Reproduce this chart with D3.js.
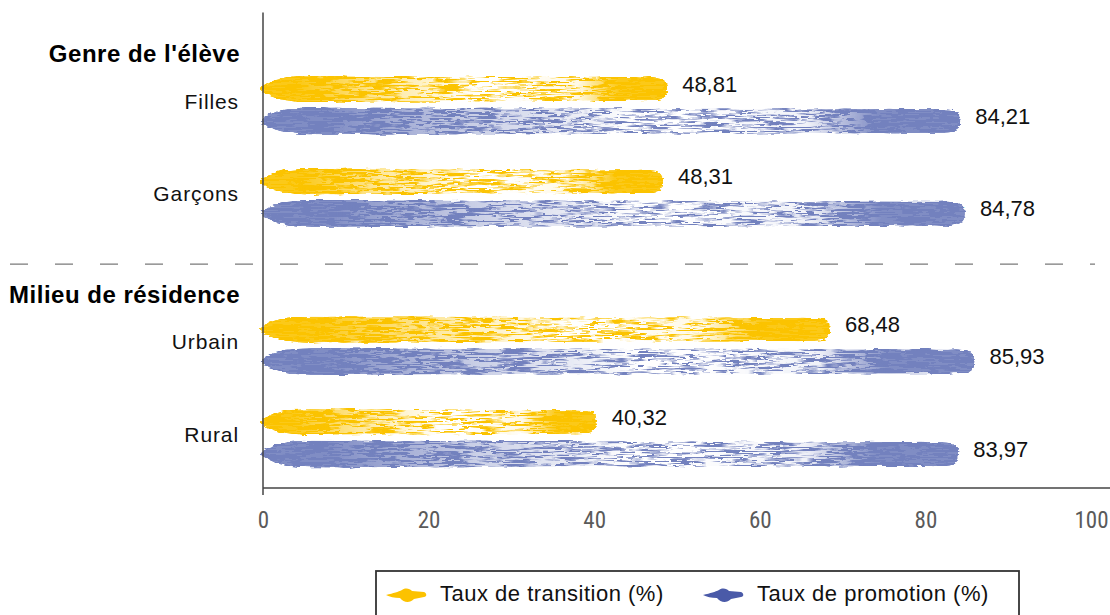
<!DOCTYPE html>
<html>
<head>
<meta charset="utf-8">
<script src="https://cdn.jsdelivr.net/npm/d3@7"></script>
<style>
  body { margin: 0; background: #fff; }
  svg { display: block; }
</style>
</head>
<body>
<div id="chart"></div>
<script>
// data
var groups = ["Genre de l'élève", "Milieu de résidence"];
var categories = ["Filles", "Garçons", "Urbain", "Rural"];
var categoryGroup = [0, 0, 1, 1];
var transition = [48.81, 48.31, 68.48, 40.32];
var promotion = [84.21, 84.78, 85.93, 83.97];
var xTicks = [0, 20, 40, 60, 80, 100];
var seriesNames = ["Taux de transition (%)", "Taux de promotion (%)"];

var width = 1110, height = 615;
var yellow = "#fbc300", blue = "#7381be";

var fr = d3.formatLocale({decimal: ",", thousands: " ", grouping: [3], currency: ["", ""]});
var fmt = fr.format(".2f");

var svg = d3.select("#chart").append("svg")
    .attr("width", width)
    .attr("height", height);

var x = d3.scaleLinear().domain([0, 100]).range([263, 1091]);
// slot index: one step per row, groups pushed apart a bit
var slot = (i) => i + categoryGroup[i] * 0.6;
var y = d3.scaleLinear().domain([0, 1]).range([105, 197.5]);

var defs = svg.append("defs");

// brush texture: fine streaky noise masked by a gradient on the fill alpha
var f = defs.append("filter").attr("id", "brush")
    .attr("x", "-5%").attr("y", "-40%").attr("width", "110%").attr("height", "180%");
f.append("feTurbulence").attr("type", "fractalNoise")
    .attr("baseFrequency", "0.03 0.8").attr("numOctaves", 3).attr("seed", 4).attr("result", "noise");
f.append("feColorMatrix").attr("in", "noise").attr("type", "matrix")
    .attr("values", "0 0 0 0 0  0 0 0 0 0  0 0 0 0 0  5.5 0 0 0 -2.5").attr("result", "noiseA");
f.append("feComposite").attr("in", "SourceAlpha").attr("in2", "noiseA").attr("operator", "arithmetic")
    .attr("k1", 0).attr("k2", 1.6).attr("k3", 1).attr("k4", -0.7).attr("result", "mask");
f.append("feColorMatrix").attr("in", "SourceGraphic").attr("type", "matrix")
    .attr("values", "1 0 0 0 0  0 1 0 0 0  0 0 1 0 0  0 0 0 255 0").attr("result", "solid");
f.append("feComposite").attr("in", "solid").attr("in2", "mask").attr("operator", "in").attr("result", "tex");
f.append("feTurbulence").attr("type", "fractalNoise")
    .attr("baseFrequency", "0.08 0.5").attr("numOctaves", 2).attr("seed", 9).attr("result", "noise2");
f.append("feDisplacementMap").attr("in", "tex").attr("in2", "noise2").attr("scale", 4)
    .attr("xChannelSelector", "R").attr("yChannelSelector", "G");

function addGradient(id, color) {
    var g = defs.append("linearGradient").attr("id", id)
        .attr("x1", 0).attr("x2", 1).attr("y1", 0).attr("y2", 0);
    [[0, 1], [0.1, 1], [0.3, 0.68], [0.55, 0.42], [0.78, 0.5], [0.88, 1], [1, 1]].forEach(function(s){
        g.append("stop").attr("offset", s[0]).attr("stop-color", color).attr("stop-opacity", s[1]);
    });
}
addGradient("g-yellow", yellow);
addGradient("g-blue", blue);

function brushPath(x0, x1, yc, h) {
    var top = yc - h / 2, bot = yc + h / 2, r = h * 0.6;
    var p = d3.path();
    p.moveTo(x0 - 6, yc - 1);
    p.bezierCurveTo(x0 + 4, top + h * 0.12, x0 + 20, top, x0 + 45, top);
    p.lineTo(x1 - r, top + 1.5);
    p.bezierCurveTo(x1 - r * 0.2, top + 1.5, x1, yc - h * 0.3, x1, yc);
    p.bezierCurveTo(x1, yc + h * 0.3, x1 - r * 0.2, bot - 1.5, x1 - r, bot - 1.5);
    p.lineTo(x0 + 45, bot);
    p.bezierCurveTo(x0 + 20, bot, x0 + 4, bot - h * 0.15, x0 - 6, yc + 1);
    p.closePath();
    return p.toString();
}

// dashed separator between the two groups
svg.append("line")
    .attr("x1", 10).attr("x2", 1095)
    .attr("y1", y(1.72)).attr("y2", y(1.72))
    .attr("stroke", "#7a7a7a").attr("stroke-width", 1.2)
    .attr("stroke-dasharray", "18 27");

// bars
var rows = categories.map((c, i) => ({name: c, i: i, t: transition[i], p: promotion[i]}));

var barG = svg.append("g");
rows.forEach(function(d){
    var yc = y(slot(d.i));
    barG.append("path")
        .attr("d", brushPath(x(0) + 3, x(d.t), yc - 16, 26))
        .attr("fill", "url(#g-yellow)")
        .attr("filter", "url(#brush)");
    barG.append("path")
        .attr("d", brushPath(x(0) + 4, x(d.p), yc + 16, 27))
        .attr("fill", "url(#g-blue)")
        .attr("filter", "url(#brush)");
    barG.append("text")
        .attr("x", x(d.t) + 15).attr("y", yc - 19)
        .attr("dominant-baseline", "middle")
        .style("font-family", "'Liberation Sans', Arial, sans-serif")
        .style("font-size", "22px").attr("fill", "#111")
        .text(fmt(d.t));
    barG.append("text")
        .attr("x", x(d.p) + 15).attr("y", yc + 13)
        .attr("dominant-baseline", "middle")
        .style("font-family", "'Liberation Sans', Arial, sans-serif")
        .style("font-size", "22px").attr("fill", "#111")
        .text(fmt(d.p));
});

// row labels
svg.append("g").selectAll("text")
    .data(rows).enter().append("text")
    .attr("x", 239).attr("y", d => y(slot(d.i)) - 2)
    .attr("text-anchor", "end").attr("dominant-baseline", "middle")
    .style("font-family", "'Liberation Sans', Arial, sans-serif")
    .style("font-size", "21px").style("letter-spacing", "0.9px")
    .attr("fill", "#111")
    .text(d => d.name);

// group headings
svg.append("g").selectAll("text")
    .data(groups).enter().append("text")
    .attr("x", 240)
    .attr("y", (d, gi) => y(slot(categoryGroup.indexOf(gi)) - 0.53))
    .attr("text-anchor", "end").attr("dominant-baseline", "middle")
    .style("font-family", "'Liberation Sans', Arial, sans-serif")
    .style("font-size", "24px").style("font-weight", "bold").style("letter-spacing", "0.5px")
    .attr("fill", "#000")
    .text(d => d);

// axes
var axisY = y(3.6 + 0.54);
svg.append("line")
    .attr("x1", x(0)).attr("x2", x(0))
    .attr("y1", y(-1)).attr("y2", axisY + 7)
    .attr("stroke", "#444").attr("stroke-width", 1.5);
svg.append("line")
    .attr("x1", x(0)).attr("x2", width)
    .attr("y1", axisY).attr("y2", axisY)
    .attr("stroke", "#444").attr("stroke-width", 1.5);

var xAxis = svg.append("g")
    .attr("transform", `translate(0,${axisY})`)
    .call(d3.axisBottom(x).tickValues(xTicks).tickSize(0).tickPadding(24));
xAxis.select(".domain").remove();
xAxis.selectAll("text")
    .style("font-family", "'Liberation Sans Narrow', 'Roboto Condensed', 'Liberation Sans', sans-serif")
    .style("font-size", "23px")
    .attr("fill", "#5a5a5a");

// legend
var leg = svg.append("g");
leg.append("rect")
    .attr("x", 376).attr("y", 571).attr("width", 643).attr("height", 60)
    .attr("fill", "none").attr("stroke", "#333").attr("stroke-width", 1.8);
var legColors = ["#fcc200", "#4a5aa8"];
var legX = [386, 703];
seriesNames.forEach(function(s, i){
    var yc = 595;
    var gx = legX[i];
    var p = d3.path();
    p.moveTo(gx, yc);
    p.bezierCurveTo(gx + 8, yc - 2, gx + 12, yc - 3, gx + 16, yc - 5);
    p.bezierCurveTo(gx + 20, yc - 8, gx + 24, yc - 6, gx + 26, yc - 4);
    p.lineTo(gx + 38, yc - 3);
    p.bezierCurveTo(gx + 41, yc - 2, gx + 41, yc + 2, gx + 38, yc + 2);
    p.lineTo(gx + 28, yc + 4);
    p.bezierCurveTo(gx + 24, yc + 8, gx + 18, yc + 8, gx + 14, yc + 3);
    p.bezierCurveTo(gx + 8, yc + 3, gx + 4, yc + 2, gx, yc);
    p.closePath();
    leg.append("path").attr("d", p.toString()).attr("fill", legColors[i]);
    leg.append("text")
        .attr("x", gx + 54).attr("y", yc)
        .attr("dominant-baseline", "middle")
        .style("font-family", "'Liberation Sans', Arial, sans-serif")
        .style("font-size", "22px").style("letter-spacing", "0.5px")
        .attr("fill", "#111")
        .text(s);
});
</script>
</body>
</html>
